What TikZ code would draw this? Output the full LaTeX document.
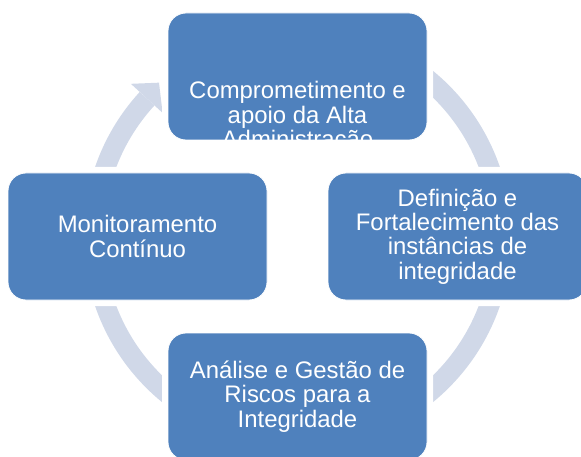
\documentclass[tikz,border=0pt]{standalone}
\usepackage{fontspec}
\setmainfont{Liberation Sans}
\definecolor{boxblue}{HTML}{4F81BD}
\definecolor{ringcol}{HTML}{D0D8E8}
\begin{document}
\begin{tikzpicture}[x=1pt,y=1pt,
  stepbox/.style={fill=boxblue, draw=white, line width=0.8pt, rounded corners=18pt,
    minimum width=259pt, minimum height=127pt, inner sep=0pt, text=white,
    align=center, font=\fontsize{23.9}{24.3}\selectfont,
    preaction={draw=white, line width=12pt}},
  boxtext/.style={inner sep=0pt, text=white, align=center, font=\fontsize{23.9}{24.3}\selectfont},
  ringline/.style={draw=ringcol, line width=20pt},
  ringhead/.style={fill=ringcol, draw=none}]
\useasboundingbox (0,0) rectangle (581,456);
\clip (0,0) rectangle (581,456);
\coordinate (c) at (297.5,219.5);
% cycle ring with arrow head
\draw[ringline] ([shift={(137.5:204pt)}]c) arc[start angle=137.5, end angle=420, radius=204pt];
\fill[ringhead] ([shift={(137.5:226pt)}]c) -- ([shift={(132:207pt)}]c) -- ([shift={(137.5:183pt)}]c) -- cycle;
% boxes
\node[stepbox] (top) at (297.5,379.5) {};
\node[stepbox] (left) at (137.5,219.5) {Monitoramento\\Contínuo};
\node[stepbox] (right) at (457.5,219.5) {Definição e\\Fortalecimento das\\instâncias de\\integridade};
\node[stepbox] (bottom) at (297.5,59.5) {Análise e Gestão de\\Riscos para a\\Integridade};
\begin{scope}
  \clip[rounded corners=18pt] (top.south west) rectangle (top.north east);
  \node[boxtext] (toptext) at (297.5,339) {Comprometimento e\\apoio da Alta\\Administração};
\end{scope}
\end{tikzpicture}
\end{document}
